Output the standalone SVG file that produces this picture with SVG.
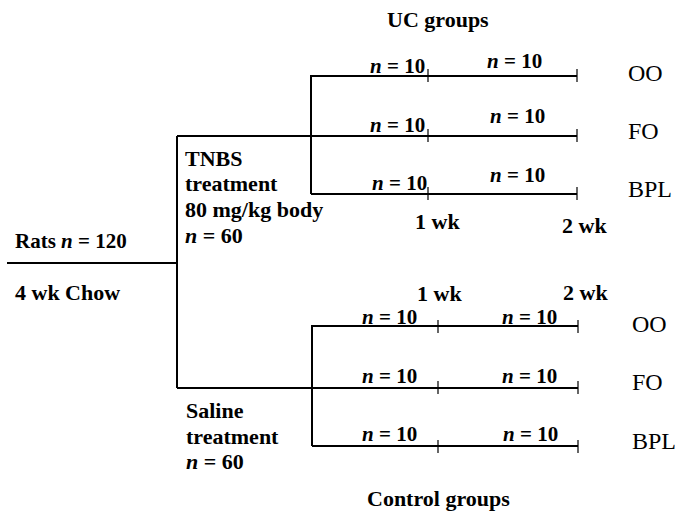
<svg xmlns="http://www.w3.org/2000/svg" width="675" height="512" viewBox="0 0 675 512">
<style>
.ln{stroke:#000;stroke-width:2;fill:none}
.tk{stroke:#000;stroke-width:1.2;fill:none}
.b{font-family:"Liberation Serif","Times New Roman",serif;font-weight:bold;font-size:22px;fill:#000}
.s{font-size:21px}
.r{font-family:"Liberation Serif","Times New Roman",serif;font-size:24px;fill:#000}
.n{font-style:italic}
</style>
<rect width="675" height="512" fill="#fff"/>
<g id="connectors">
<path class="ln" d="M7 263H177M177 136V388M177 136H577M177 388H578"/>
<path class="ln" d="M311 194V76H577M311 194H577"/>
<path class="ln" d="M312 446V326H578M312 446H578"/>
<path class="tk" d="M428 69V82M577 69V82M428 129V142M577 129V142M428 187V200M577 187V200"/>
<path class="tk" d="M438 320V333M578 320V333M438 381V394M578 381V394M438 440V453M578 440V453"/>
</g>
<g id="rats"><text class="b s" x="15" y="248">Rats <tspan class="n">n</tspan> = 120</text><text class="b" x="15" y="300">4 wk Chow</text></g>
<g id="tnbs"><text class="b" x="185" y="166">TNBS</text><text class="b" x="185" y="191">treatment</text><text class="b" x="185" y="217">80 mg/kg body</text><text class="b" x="185" y="243"><tspan class="n">n</tspan> = 60</text></g>
<g id="saline"><text class="b" x="186" y="418">Saline</text><text class="b" x="186" y="444">treatment</text><text class="b" x="186" y="469"><tspan class="n">n</tspan> = 60</text></g>
<g id="uc-title"><text class="b" x="387" y="27">UC groups</text></g>
<g id="uc-oo"><text class="b s" x="370" y="73"><tspan class="n">n</tspan> = 10</text><text class="b s" x="487" y="68"><tspan class="n">n</tspan> = 10</text><text class="r" x="628" y="81">OO</text></g>
<g id="uc-fo"><text class="b s" x="370" y="132"><tspan class="n">n</tspan> = 10</text><text class="b s" x="490" y="123"><tspan class="n">n</tspan> = 10</text><text class="r" x="628" y="139">FO</text></g>
<g id="uc-bpl"><text class="b s" x="372" y="190"><tspan class="n">n</tspan> = 10</text><text class="b s" x="490" y="182"><tspan class="n">n</tspan> = 10</text><text class="r" x="628" y="197">BPL</text></g>
<g id="uc-weeks"><text class="b" x="415" y="229">1 wk</text><text class="b" x="562" y="233">2 wk</text></g>
<g id="ctrl-weeks"><text class="b" x="417" y="301">1 wk</text><text class="b" x="563" y="300">2 wk</text></g>
<g id="ctrl-oo"><text class="b s" x="362" y="324"><tspan class="n">n</tspan> = 10</text><text class="b s" x="502" y="324"><tspan class="n">n</tspan> = 10</text><text class="r" x="632" y="332">OO</text></g>
<g id="ctrl-fo"><text class="b s" x="362" y="383"><tspan class="n">n</tspan> = 10</text><text class="b s" x="502" y="383"><tspan class="n">n</tspan> = 10</text><text class="r" x="632" y="390">FO</text></g>
<g id="ctrl-bpl"><text class="b s" x="362" y="441"><tspan class="n">n</tspan> = 10</text><text class="b s" x="503" y="441"><tspan class="n">n</tspan> = 10</text><text class="r" x="632" y="449">BPL</text></g>
<g id="ctrl-title"><text class="b" x="367" y="506">Control groups</text></g>
</svg>
